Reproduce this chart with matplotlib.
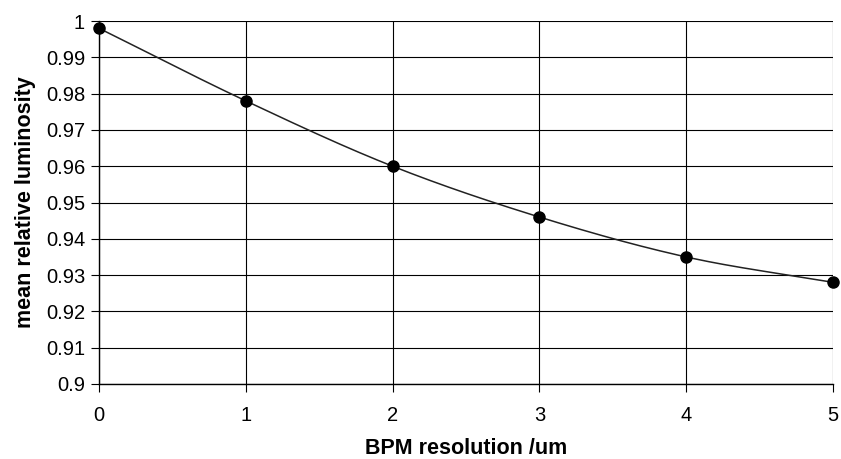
import numpy as np
import matplotlib.pyplot as plt

plt.rcParams['font.family'] = ['Liberation Sans', 'DejaVu Sans']

# BPM resolution vs mean relative luminosity
resolution = [0, 1, 2, 3, 4, 5]
luminosity = [0.998, 0.978, 0.960, 0.946, 0.935, 0.928]


def smooth_curve(x, y, n=40):
    # Catmull-Rom style smoothing between the points
    x = np.asarray(x, float)
    y = np.asarray(y, float)
    px = np.concatenate([[2 * x[0] - x[1]], x, [2 * x[-1] - x[-2]]])
    py = np.concatenate([[2 * y[0] - y[1]], y, [2 * y[-1] - y[-2]]])
    xs, ys = [], []
    t = np.linspace(0, 1, n)
    for i in range(1, len(px) - 2):
        for p, out in ((px, xs), (py, ys)):
            p0, p1, p2, p3 = p[i - 1], p[i], p[i + 1], p[i + 2]
            out.append(0.5 * (2 * p1 + (-p0 + p2) * t
                              + (2 * p0 - 5 * p1 + 4 * p2 - p3) * t ** 2
                              + (-p0 + 3 * p1 - 3 * p2 + p3) * t ** 3))
    return np.concatenate(xs), np.concatenate(ys)


fig = plt.figure(figsize=(8.41, 4.59), dpi=100)
ax = fig.add_axes([0.1177, 0.1634, 0.8728, 0.7908])

sx, sy = smooth_curve(resolution, luminosity)
ax.plot(sx, sy, color='#222222', lw=1.1, zorder=3)
ax.plot(resolution, luminosity, 'o', color='black', ms=8, zorder=4, clip_on=False)

ax.set_xlim(0, 5)
ax.set_ylim(0.9, 1.0)
ax.set_xticks(resolution)
ax.set_yticks(np.arange(0.9, 1.0001, 0.01))
ax.set_yticklabels(['0.9', '0.91', '0.92', '0.93', '0.94', '0.95',
                    '0.96', '0.97', '0.98', '0.99', '1'])
ax.grid(True, color='black', lw=0.8)
ax.set_axisbelow(True)
for side in ('top', 'right'):
    ax.spines[side].set_visible(False)
for side in ('left', 'bottom'):
    ax.spines[side].set_linewidth(1.0)
ax.tick_params(axis='both', length=6, width=0.8, labelsize=14.5, pad=4)
ax.tick_params(axis='x', pad=10)

ax.set_xlabel('BPM resolution /um', fontsize=15.5, fontweight='bold', labelpad=9)
ax.set_ylabel('mean relative luminosity', fontsize=15.5, fontweight='bold', labelpad=7)

fig.savefig('out.png', dpi=100)
